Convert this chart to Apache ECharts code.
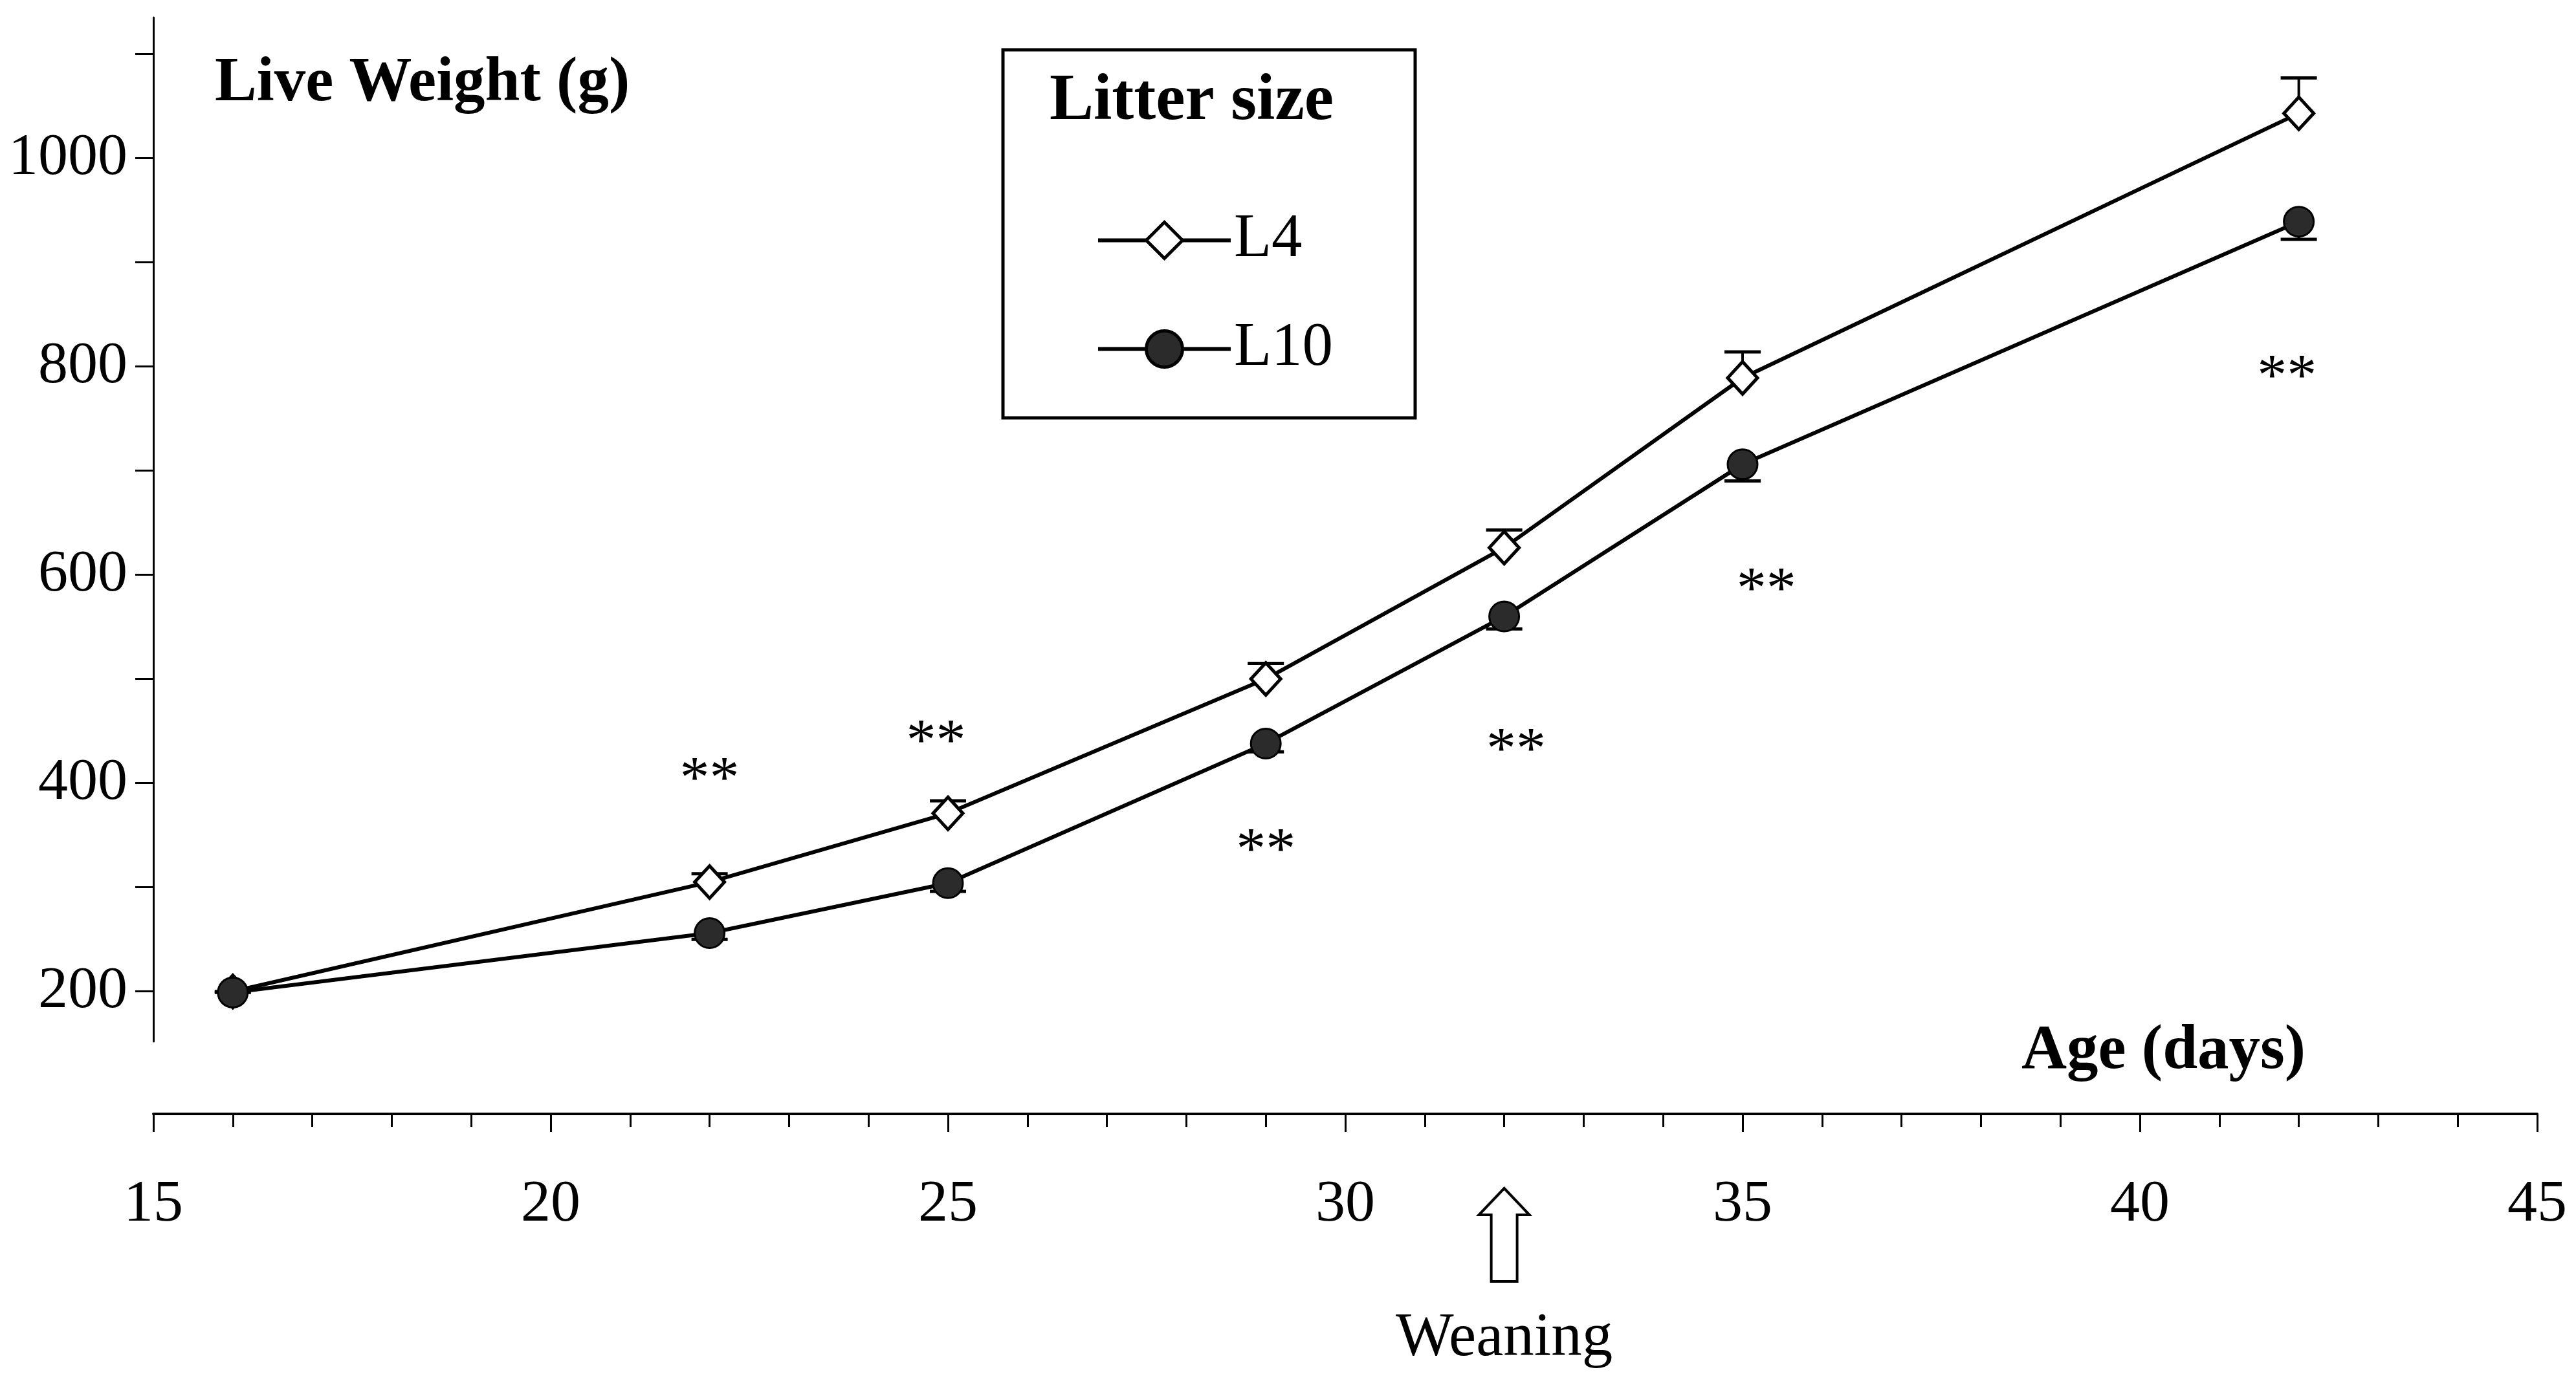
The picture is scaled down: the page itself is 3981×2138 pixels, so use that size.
<!DOCTYPE html>
<html>
<head>
<meta charset="utf-8">
<script src="https://cdn.jsdelivr.net/npm/echarts@6/dist/echarts.min.js"></script>
<style>
  html, body { margin: 0; padding: 0; background: #fff; }
  #chart { width: 3981px; height: 2138px; }
</style>
</head>
<body>
<div id="chart"></div>
<script>
// ---- Data ----
const ageDays = [16, 22, 25, 29, 32, 35, 42];
const weightL4 = [200, 305, 371, 500, 626, 789, 1043];
const weightL10 = [199, 256, 304, 438, 560, 706, 939];
const seL4 = [0, 8, 12, 15, 17, 25, 34];
const seL10 = [0, 6, 8, 8, 12, 16, 17];

// significance marks ("**") : day and weight position
const sigDays = [22, 24.85, 29, 32.15, 35.3, 41.85];
const sigValues = [411, 447, 343, 439, 593, 797];
const sigText = '**';

// axis ticks / labels
const yLabelValues = [200, 400, 600, 800, 1000];
const yTickValues = [200, 300, 400, 500, 600, 700, 800, 900, 1000, 1100];
const xMin = 15, xMax = 45, xStep = 5;
const yMin = 152, yMax = 1135;

const weaningDay = 32;
const seriesNames = ['L4', 'L10'];
const legendTitle = 'Litter size';
const yTitle = 'Live Weight (g)';
const xTitle = 'Age (days)';
const weaningText = 'Weaning';

const FONT = '"Liberation Serif", "Times New Roman", serif';

const chart = echarts.init(document.getElementById('chart'), null, { renderer: 'canvas' });

function pairs(xs, ys, es) {
  return xs.map((x, i) => es ? [x, ys[i], es[i]] : [x, ys[i]]);
}

function errorRender(dir) {
  return function (params, api) {
    const x = api.value(0), v = api.value(1), e = api.value(2);
    const p0 = api.coord([x, v]);
    const p1 = api.coord([x, v + dir * e]);
    const half = 28;
    return {
      type: 'group',
      children: [
        { type: 'line', shape: { x1: p0[0], y1: p0[1], x2: p1[0], y2: p1[1] },
          style: { stroke: '#000', lineWidth: 4 } },
        { type: 'line', shape: { x1: p1[0] - half, y1: p1[1], x2: p1[0] + half, y2: p1[1] },
          style: { stroke: '#000', lineWidth: 5 } }
      ]
    };
  };
}

const option = {
  animation: false,
  backgroundColor: '#fff',
  grid: { left: 237, right: 60, top: 27, bottom: 528, containLabel: false, outerBoundsMode: 'none' },
  xAxis: {
    type: 'value', min: xMin, max: xMax, interval: xStep,
    offset: 112,
    axisLine: { show: true, onZero: false, lineStyle: { color: '#000', width: 4 } },
    axisTick: { show: true, inside: false, length: 28, lineStyle: { color: '#000', width: 3 } },
    minorTick: { show: true, splitNumber: 5, length: 20, lineStyle: { color: '#000', width: 3 } },
    axisLabel: { show: true, margin: 95, fontSize: 92, fontFamily: FONT, color: '#000' },
    splitLine: { show: false }
  },
  yAxis: {
    type: 'value', min: yMin, max: yMax,
    axisLine: { show: true, onZero: false, lineStyle: { color: '#000', width: 3 } },
    axisTick: { show: true, inside: false, length: 28, customValues: yTickValues, lineStyle: { color: '#000', width: 3 } },
    axisLabel: { show: true, margin: 40, fontSize: 92, fontFamily: FONT, color: '#000',
                 customValues: yLabelValues, formatter: v => String(v) },
    splitLine: { show: false }
  },
  legend: {
    show: true,
    orient: 'vertical',
    left: 1694, top: 324,
    padding: 0,
    itemWidth: 205, itemHeight: 70, itemGap: 73,
    selectedMode: false,
    data: seriesNames,
    lineStyle: { width: 6, color: '#000' },
    itemStyle: { borderColor: '#000', borderWidth: 5 },
    textStyle: { fontSize: 95, fontFamily: FONT, color: '#000' }
  },
  series: [
    {
      name: 'L4-err', type: 'custom', z: 1,
      renderItem: errorRender(1),
      data: pairs(ageDays, weightL4, seL4),
      silent: true
    },
    {
      name: 'L10-err', type: 'custom', z: 1,
      renderItem: errorRender(-1),
      data: pairs(ageDays, weightL10, seL10),
      silent: true
    },
    {
      name: seriesNames[0], type: 'line', z: 3,
      data: pairs(ageDays, weightL4),
      symbol: 'diamond', symbolSize: [46, 50],
      lineStyle: { color: '#000', width: 6 },
      itemStyle: { color: '#fff', borderColor: '#000', borderWidth: 5 }
    },
    {
      name: seriesNames[1], type: 'line', z: 4,
      data: pairs(ageDays, weightL10),
      symbol: 'circle', symbolSize: 46,
      lineStyle: { color: '#000', width: 6 },
      itemStyle: { color: '#2b2b2b', borderColor: '#000', borderWidth: 3 }
    },
    {
      name: 'sig', type: 'custom', z: 5, silent: true,
      data: pairs(sigDays, sigValues),
      renderItem: function (params, api) {
        const p = api.coord([api.value(0), api.value(1)]);
        return {
          type: 'text', x: p[0], y: p[1] + 15,
          style: { text: sigText, font: '92px ' + FONT, fill: '#000', align: 'center', verticalAlign: 'middle' }
        };
      }
    }
  ]
};

chart.setOption(option);

// annotations drawn after layout
const wx = chart.convertToPixel({ xAxisIndex: 0 }, weaningDay);
const arrowTop = 1837, headBase = 1878, arrowBottom = 1981, headHalf = 39, shaftHalf = 20;

chart.setOption({
  graphic: [
    { type: 'rect', shape: { x: 1550, y: 77, width: 637, height: 569 },
      style: { fill: 'none', stroke: '#000', lineWidth: 5 }, z: 0 },
    { type: 'text', x: 1622, y: 158,
      style: { text: legendTitle, font: 'bold 102px ' + FONT, fill: '#000', verticalAlign: 'middle' } },
    { type: 'text', x: 332, y: 130,
      style: { text: yTitle, font: 'bold 97px ' + FONT, fill: '#000', verticalAlign: 'middle' } },
    { type: 'text', x: 3124, y: 1626,
      style: { text: xTitle, font: 'bold 97px ' + FONT, fill: '#000', verticalAlign: 'middle' } },
    { type: 'polygon',
      shape: { points: [
        [wx, arrowTop], [wx + headHalf, headBase], [wx + shaftHalf, headBase],
        [wx + shaftHalf, arrowBottom], [wx - shaftHalf, arrowBottom],
        [wx - shaftHalf, headBase], [wx - headHalf, headBase]
      ] },
      style: { fill: '#fff', stroke: '#000', lineWidth: 4 } },
    { type: 'text', x: wx, y: 2070,
      style: { text: weaningText, font: '95px ' + FONT, fill: '#000', align: 'center', verticalAlign: 'middle' } }
  ]
});
</script>
</body>
</html>
